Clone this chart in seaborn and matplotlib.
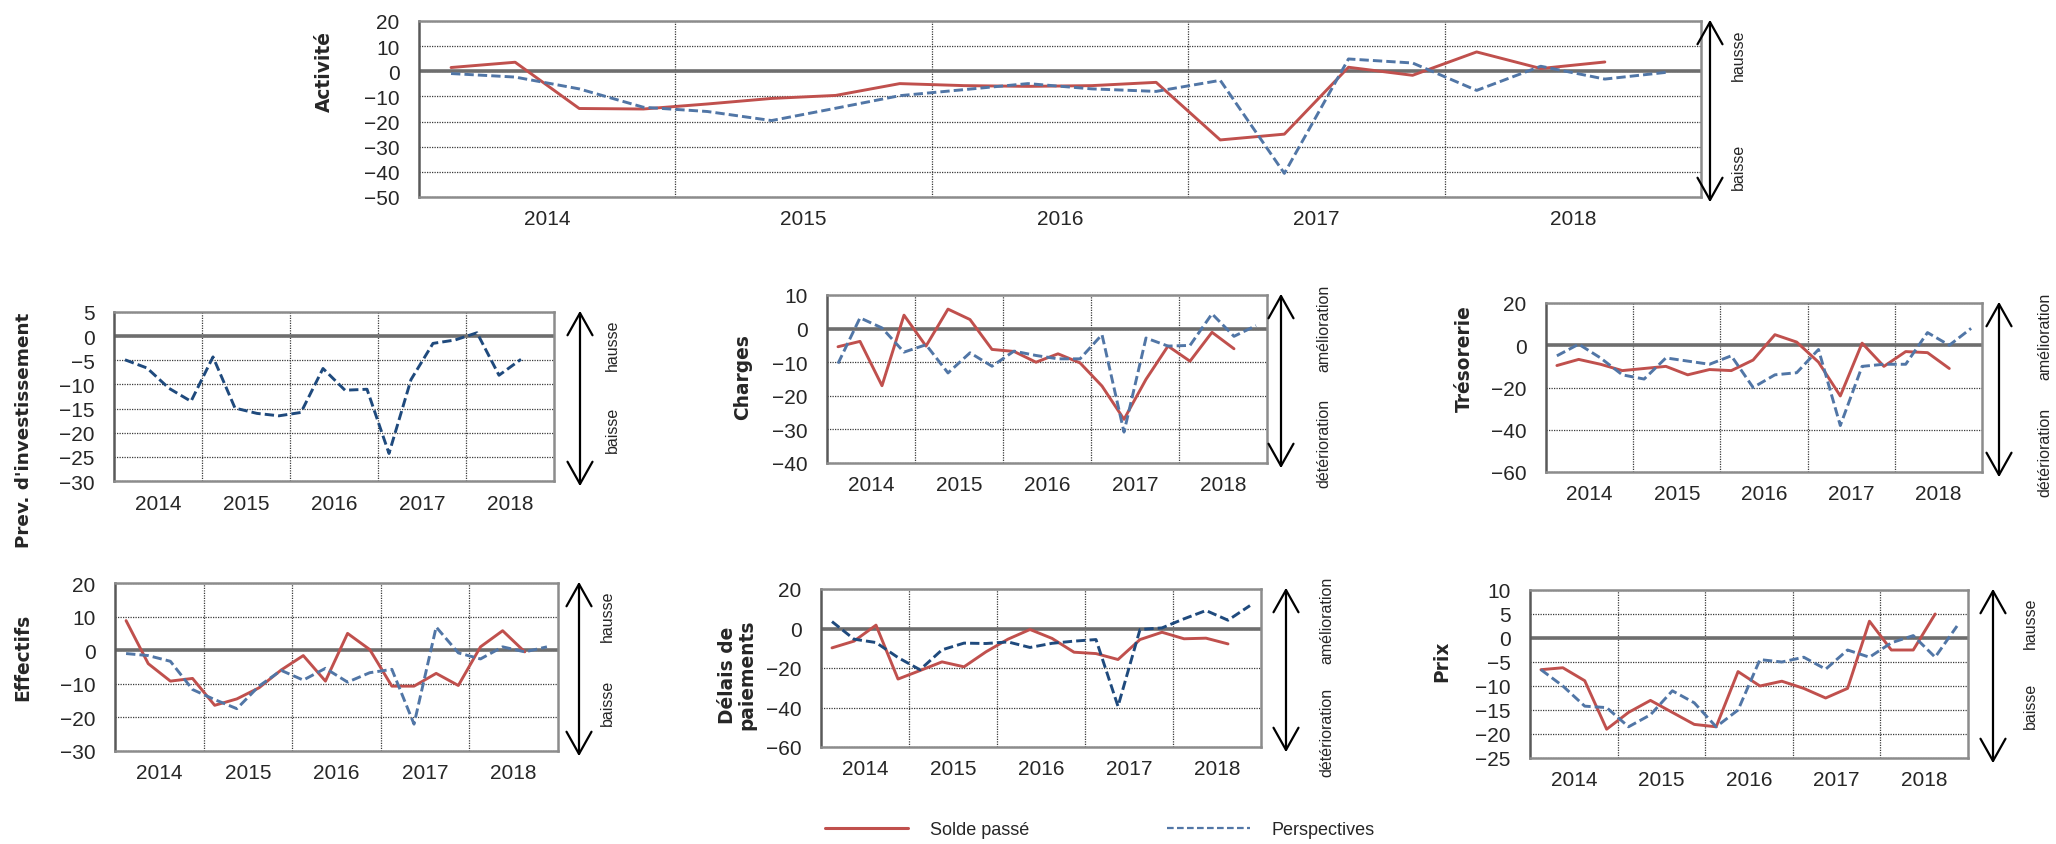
import matplotlib
matplotlib.use("Agg")
import matplotlib.pyplot as plt
from matplotlib.lines import Line2D
import pandas as pd
import seaborn as sns

# Quarterly balances 2014T1 .. 2018T4 (solde passé stops one quarter earlier)
quarters = [f"{y}T{q}" for y in range(2014, 2019) for q in range(1, 5)]
years = ["2014", "2015", "2016", "2017", "2018"]

activite_solde = [1.5, 3.6, -14.8, -15, -13, -10.8, -9.6, -4.9, -5.7, -6, -5.7, -4.4,
                  -27.3, -25, 1.6, -1.6, 7.7, 1.1, 3.7]
activite_persp = [-0.9, -2.3, -7, -14.3, -16, -19.6, -14.7, -9.7, -7.3, -4.9, -7, -8,
                  -3.6, -40.6, 4.9, 3.3, -7.6, 2, -3.1, -0.3]

invest_persp = [-4.9, -6.6, -10.8, -13.5, -4.3, -14.9, -16, -16.5, -15.8, -6.7, -11.2, -11,
                -24.3, -9, -1.5, -0.8, 0.7, -8.1, -4.8]

charges_solde = [-5.4, -3.8, -17, 4, -5.2, 5.8, 2.7, -6.2, -6.8, -10, -7.5, -10.2,
                 -17.1, -27, -15.1, -5.2, -9.7, -1.1, -6]
charges_persp = [-10.4, 3.2, 0.2, -7, -4.8, -13.2, -7.2, -11.2, -6.7, -8, -9, -9,
                 -1.8, -30.8, -2.8, -5.2, -5, 4.4, -2.3, 0.9]

treso_solde = [-9.6, -6.7, -9, -12, -11, -10, -14, -11.5, -12, -7, 5, 1.5,
               -8, -24, 1, -10, -3, -3.5, -11]
treso_persp = [-5, 0.5, -6, -14, -16, -6, -7.5, -9, -5, -20, -14, -13,
               -2, -38, -10, -9, -9, 6, 0, 8]

effectifs_solde = [8.8, -4, -9.2, -8.4, -16.4, -14.5, -11.2, -5.9, -1.6, -9.2, 5, 0.2,
                   -10.7, -10.7, -6.9, -10.5, 1, 5.8, -0.5]
effectifs_persp = [-1, -1.6, -3.3, -11.7, -14.7, -17.4, -10.7, -6, -8.9, -5.4, -9.5, -6.7,
                   -5.7, -22, 6.9, -0.8, -2.6, 1, -0.5, 1]

delais_solde = [-9.8, -6.4, 1.7, -25.6, -21.3, -16.9, -19.4, -11.8, -5.4, -0.5, -5, -12,
                -12.7, -15.7, -5.6, -1.9, -5.2, -4.9, -7.8]
delais_persp = [3.5, -5.4, -7.1, -14.7, -20.9, -10.8, -7.4, -7.6, -6.8, -9.6, -7.5, -6.4,
                -5.6, -39.4, -0.5, 0.3, 4.9, 9.1, 4.2, 11.6]

prix_solde = [-6.6, -6.2, -8.9, -19, -15.5, -13, -15.5, -18, -18.5, -7, -10, -9,
              -10.5, -12.5, -10.5, 3.5, -2.5, -2.5, 5]
prix_persp = [-6.6, -10, -14.2, -14.5, -18.5, -16, -11, -13.5, -18.5, -15, -4.5, -5,
              -4, -6.5, -2.5, -4, -1, 0.5, -4, 2.5]

RED = "#C0504D"
BLUE = "#5176A6"
NAVY = "#1F4A7D"

sns.set_style("white")
plt.rcParams["font.family"] = ["Liberation Sans", "DejaVu Sans"]

W, H = 2056, 845
fig = plt.figure(figsize=(W / 100, H / 100), dpi=100)


def rect(l, r, t, b):
    return [l / W, 1 - b / H, (r - l) / W, (b - t) / H]


# name, solde, persp, persp colour, ylim, step, box (px), labels, arrow x, text x,
# title x / y / size, lower label position
panels = [
    ("Activité", activite_solde, activite_persp, BLUE, (-50, 20), 10,
     (419, 1701, 22, 198), ("hausse", "baisse"), 1710, 1738, (324, 72, 13.4), 0.79),
    ("Prev. d'investissement", None, invest_persp, NAVY, (-30, 5), 5,
     (114, 554, 313, 482), ("hausse", "baisse"), 580, 612, (24, 430, 13.2), 0.67),
    ("Charges", charges_solde, charges_persp, BLUE, (-40, 10), 10,
     (827, 1267, 296, 464), ("amélioration", "détérioration"), 1281, 1324, (743, 377, 13.4), 0.84),
    ("Trésorerie", treso_solde, treso_persp, BLUE, (-60, 20), 20,
     (1546, 1982, 304, 473), ("amélioration", "détérioration"), 1999, 2045, (1464, 359, 13.4), 0.84),
    ("Effectifs", effectifs_solde, effectifs_persp, BLUE, (-30, 20), 10,
     (115, 558, 584, 752), ("hausse", "baisse"), 579, 607, (23, 657, 13.4), 0.68),
    ("Délais de\npaiements", delais_solde, delais_persp, NAVY, (-60, 20), 20,
     (821, 1261, 590, 748), ("amélioration", "détérioration"), 1286, 1327, (737, 675, 13.4), 0.86),
    ("Prix", prix_solde, prix_persp, BLUE, (-25, 10), 5,
     (1530, 1968, 591, 759), ("hausse", "baisse"), 1993, 2030, (1442, 661, 13.4), 0.66),
]

for (name, solde, persp, pcol, (ymin, ymax), step, box, (up, down),
     ax_x, tx_x, (lab_x, lab_y, lab_size), low_frac) in panels:
    l, r, t, b = box
    ax = fig.add_axes(rect(l, r, t, b))

    frames = []
    if solde is not None:
        frames.append(pd.DataFrame({"pos": range(len(solde)), "val": solde,
                                    "serie": "Solde passé"}))
    frames.append(pd.DataFrame({"pos": range(len(persp)), "val": persp,
                                "serie": "Perspectives"}))
    df = pd.concat(frames, ignore_index=True)
    order = [s for s in ["Solde passé", "Perspectives"] if s in set(df["serie"])]

    ax.axhline(0, color="#6e6e6e", lw=2.6, zorder=1.5)
    sns.lineplot(data=df, x="pos", y="val", hue="serie", style="serie",
                 hue_order=order, style_order=order,
                 palette={"Solde passé": RED, "Perspectives": pcol},
                 dashes={"Solde passé": "", "Perspectives": (3.2, 1.4)},
                 linewidth=2.1, legend=False, ax=ax, zorder=3)

    ax.set_xlim(-0.5, len(quarters) - 0.5)
    ax.set_ylim(ymin, ymax)
    ax.set_yticks(range(ymin, ymax + 1, step))
    ax.set_xticks([4 * i + 1.5 for i in range(len(years))])
    ax.set_xticklabels(years)
    ax.set_xticks([4 * i - 0.5 for i in range(1, len(years))], minor=True)
    ax.grid(axis="y", which="major", color="#3a3a3a", lw=0.9, ls=(0, (1, 1)))
    ax.grid(axis="x", which="minor", color="#3a3a3a", lw=0.9, ls=(0, (1, 1)))
    ax.tick_params(axis="both", which="both", length=0, labelsize=15)
    ax.tick_params(axis="y", pad=14)
    ax.tick_params(axis="x", pad=9)
    ax.set_xlabel("")
    ax.set_ylabel("")
    for side in ["top", "right", "bottom"]:
        ax.spines[side].set_color("#8c8c8c")
        ax.spines[side].set_linewidth(1.8)
    ax.spines["left"].set_color("#595959")
    ax.spines["left"].set_linewidth(1.8)

    fig.text(lab_x / W, 1 - lab_y / H, name, rotation=90, ha="center", va="center",
             fontsize=lab_size, fontweight="bold", family="DejaVu Sans", linespacing=1.0)

    a_top, a_bot = t - 4, b + 8
    fig.add_artist(matplotlib.patches.FancyArrowPatch(
        (ax_x / W, 1 - a_bot / H), (ax_x / W, 1 - a_top / H),
        transform=fig.transFigure, arrowstyle="<->,head_length=0.8,head_width=0.45",
        mutation_scale=20, color="black", lw=1.6))
    span = a_bot - a_top
    fig.text(tx_x / W, 1 - (a_top + 0.2 * span) / H, up, rotation=90,
             ha="center", va="center", fontsize=11.5)
    fig.text(tx_x / W, 1 - (a_top + low_frac * span) / H, down, rotation=90,
             ha="center", va="center", fontsize=11.5)

handles = [Line2D([], [], color=RED, lw=2.2),
           Line2D([], [], color=BLUE, lw=1.6, ls=(0, (3, 1.5)))]
fig.legend(handles, ["Solde passé", "Perspectives"], loc="lower center",
           bbox_to_anchor=(0.535, -0.012), ncol=2, frameon=False, fontsize=13,
           handlelength=4.6, columnspacing=7.6, handletextpad=1.2)

fig.savefig("out.png", dpi=100)
